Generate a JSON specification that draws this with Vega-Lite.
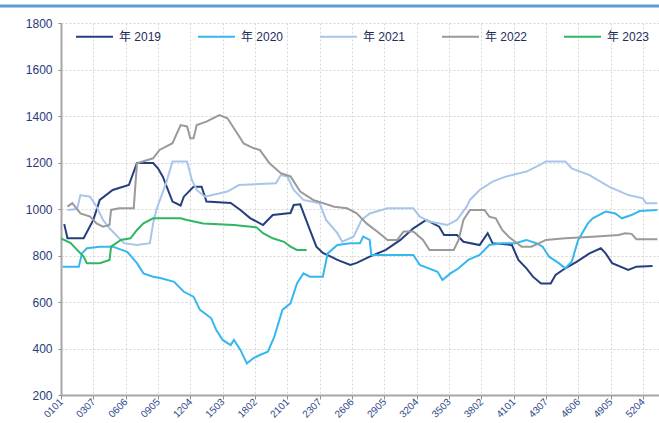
{
  "$schema": "https://vega.github.io/schema/vega-lite/v6.json",
  "width": 598,
  "height": 372,
  "autosize": {"type": "none"},
  "padding": {"left": 61, "top": 23, "right": 0, "bottom": 28},
  "background": "white",
  "config": {
    "view": {"stroke": null},
    "font": "Liberation Sans, Noto Sans CJK SC, sans-serif",
    "axis": {"labelOverlap": false}
  },
  "datasets": {
    "series": [
      {"d": 3, "s": "年 2019", "v": 935}, {"d": 5, "s": "年 2019", "v": 874}, {"d": 15, "s": "年 2019", "v": 874},
      {"d": 21, "s": "年 2019", "v": 953}, {"d": 25, "s": "年 2019", "v": 1039}, {"d": 33, "s": "年 2019", "v": 1082},
      {"d": 43, "s": "年 2019", "v": 1103}, {"d": 48, "s": "年 2019", "v": 1198}, {"d": 58, "s": "年 2019", "v": 1198},
      {"d": 61, "s": "年 2019", "v": 1175}, {"d": 64, "s": "年 2019", "v": 1139}, {"d": 70, "s": "年 2019", "v": 1032},
      {"d": 75, "s": "年 2019", "v": 1015}, {"d": 77, "s": "年 2019", "v": 1053}, {"d": 83, "s": "年 2019", "v": 1096},
      {"d": 88, "s": "年 2019", "v": 1096}, {"d": 91, "s": "年 2019", "v": 1032}, {"d": 106, "s": "年 2019", "v": 1026},
      {"d": 112, "s": "年 2019", "v": 996}, {"d": 118, "s": "年 2019", "v": 961}, {"d": 126, "s": "年 2019", "v": 931},
      {"d": 132, "s": "年 2019", "v": 974}, {"d": 143, "s": "年 2019", "v": 983}, {"d": 145, "s": "年 2019", "v": 1017},
      {"d": 149, "s": "年 2019", "v": 1020}, {"d": 155, "s": "年 2019", "v": 910}, {"d": 159, "s": "年 2019", "v": 838},
      {"d": 163, "s": "年 2019", "v": 811}, {"d": 168, "s": "年 2019", "v": 795}, {"d": 172, "s": "年 2019", "v": 781},
      {"d": 180, "s": "年 2019", "v": 759}, {"d": 184, "s": "年 2019", "v": 768}, {"d": 192, "s": "年 2019", "v": 795},
      {"d": 202, "s": "年 2019", "v": 824}, {"d": 211, "s": "年 2019", "v": 867}, {"d": 219, "s": "年 2019", "v": 917},
      {"d": 227, "s": "年 2019", "v": 953}, {"d": 235, "s": "年 2019", "v": 924}, {"d": 238, "s": "年 2019", "v": 888},
      {"d": 246, "s": "年 2019", "v": 888}, {"d": 250, "s": "年 2019", "v": 859}, {"d": 260, "s": "年 2019", "v": 845},
      {"d": 265, "s": "年 2019", "v": 896}, {"d": 268, "s": "年 2019", "v": 853}, {"d": 280, "s": "年 2019", "v": 845},
      {"d": 284, "s": "年 2019", "v": 781}, {"d": 289, "s": "年 2019", "v": 745}, {"d": 293, "s": "年 2019", "v": 709},
      {"d": 298, "s": "年 2019", "v": 680}, {"d": 304, "s": "年 2019", "v": 680}, {"d": 307, "s": "年 2019", "v": 716},
      {"d": 313, "s": "年 2019", "v": 745}, {"d": 320, "s": "年 2019", "v": 773}, {"d": 328, "s": "年 2019", "v": 809},
      {"d": 335, "s": "年 2019", "v": 831}, {"d": 338, "s": "年 2019", "v": 809}, {"d": 342, "s": "年 2019", "v": 767},
      {"d": 352, "s": "年 2019", "v": 738}, {"d": 357, "s": "年 2019", "v": 752}, {"d": 367, "s": "年 2019", "v": 755},

      {"d": 2, "s": "年 2020", "v": 752}, {"d": 12, "s": "年 2020", "v": 752}, {"d": 14, "s": "年 2020", "v": 809},
      {"d": 17, "s": "年 2020", "v": 831}, {"d": 25, "s": "年 2020", "v": 838}, {"d": 33, "s": "年 2020", "v": 838},
      {"d": 42, "s": "年 2020", "v": 816}, {"d": 48, "s": "年 2020", "v": 767}, {"d": 52, "s": "年 2020", "v": 723},
      {"d": 58, "s": "年 2020", "v": 709}, {"d": 63, "s": "年 2020", "v": 702}, {"d": 71, "s": "年 2020", "v": 687},
      {"d": 77, "s": "年 2020", "v": 644}, {"d": 83, "s": "年 2020", "v": 623}, {"d": 87, "s": "年 2020", "v": 566},
      {"d": 94, "s": "年 2020", "v": 530}, {"d": 97, "s": "年 2020", "v": 480}, {"d": 101, "s": "年 2020", "v": 437},
      {"d": 106, "s": "年 2020", "v": 415}, {"d": 108, "s": "年 2020", "v": 437}, {"d": 112, "s": "年 2020", "v": 394},
      {"d": 116, "s": "年 2020", "v": 336}, {"d": 120, "s": "年 2020", "v": 358}, {"d": 124, "s": "年 2020", "v": 372},
      {"d": 129, "s": "年 2020", "v": 386}, {"d": 133, "s": "年 2020", "v": 451}, {"d": 138, "s": "年 2020", "v": 566},
      {"d": 143, "s": "年 2020", "v": 594}, {"d": 147, "s": "年 2020", "v": 680}, {"d": 151, "s": "年 2020", "v": 723},
      {"d": 155, "s": "年 2020", "v": 709}, {"d": 163, "s": "年 2020", "v": 709}, {"d": 166, "s": "年 2020", "v": 809},
      {"d": 172, "s": "年 2020", "v": 845}, {"d": 180, "s": "年 2020", "v": 853}, {"d": 186, "s": "年 2020", "v": 853},
      {"d": 188, "s": "年 2020", "v": 881}, {"d": 192, "s": "年 2020", "v": 867}, {"d": 193, "s": "年 2020", "v": 802},
      {"d": 219, "s": "年 2020", "v": 802}, {"d": 223, "s": "年 2020", "v": 759}, {"d": 234, "s": "年 2020", "v": 730},
      {"d": 237, "s": "年 2020", "v": 695}, {"d": 242, "s": "年 2020", "v": 723}, {"d": 247, "s": "年 2020", "v": 745},
      {"d": 253, "s": "年 2020", "v": 781}, {"d": 260, "s": "年 2020", "v": 802}, {"d": 266, "s": "年 2020", "v": 845},
      {"d": 274, "s": "年 2020", "v": 853}, {"d": 282, "s": "年 2020", "v": 853}, {"d": 289, "s": "年 2020", "v": 867},
      {"d": 295, "s": "年 2020", "v": 853}, {"d": 299, "s": "年 2020", "v": 838}, {"d": 303, "s": "年 2020", "v": 795},
      {"d": 309, "s": "年 2020", "v": 767}, {"d": 313, "s": "年 2020", "v": 745}, {"d": 317, "s": "年 2020", "v": 773},
      {"d": 321, "s": "年 2020", "v": 867}, {"d": 327, "s": "年 2020", "v": 938}, {"d": 330, "s": "年 2020", "v": 960},
      {"d": 338, "s": "年 2020", "v": 989}, {"d": 344, "s": "年 2020", "v": 981}, {"d": 348, "s": "年 2020", "v": 960},
      {"d": 354, "s": "年 2020", "v": 974}, {"d": 359, "s": "年 2020", "v": 991}, {"d": 370, "s": "年 2020", "v": 996},

      {"d": 5, "s": "年 2021", "v": 996}, {"d": 11, "s": "年 2021", "v": 1000}, {"d": 13, "s": "年 2021", "v": 1060},
      {"d": 19, "s": "年 2021", "v": 1053}, {"d": 23, "s": "年 2021", "v": 1010}, {"d": 27, "s": "年 2021", "v": 953},
      {"d": 31, "s": "年 2021", "v": 917}, {"d": 40, "s": "年 2021", "v": 853}, {"d": 48, "s": "年 2021", "v": 845},
      {"d": 56, "s": "年 2021", "v": 853}, {"d": 58, "s": "年 2021", "v": 938}, {"d": 60, "s": "年 2021", "v": 996},
      {"d": 66, "s": "年 2021", "v": 1111}, {"d": 70, "s": "年 2021", "v": 1204}, {"d": 79, "s": "年 2021", "v": 1204},
      {"d": 82, "s": "年 2021", "v": 1125}, {"d": 85, "s": "年 2021", "v": 1082}, {"d": 90, "s": "年 2021", "v": 1053},
      {"d": 104, "s": "年 2021", "v": 1075}, {"d": 111, "s": "年 2021", "v": 1103}, {"d": 134, "s": "年 2021", "v": 1111},
      {"d": 137, "s": "年 2021", "v": 1146}, {"d": 141, "s": "年 2021", "v": 1140}, {"d": 145, "s": "年 2021", "v": 1082},
      {"d": 151, "s": "年 2021", "v": 1039}, {"d": 161, "s": "年 2021", "v": 1025}, {"d": 165, "s": "年 2021", "v": 953},
      {"d": 172, "s": "年 2021", "v": 896}, {"d": 175, "s": "年 2021", "v": 859}, {"d": 182, "s": "年 2021", "v": 881},
      {"d": 187, "s": "年 2021", "v": 953}, {"d": 192, "s": "年 2021", "v": 981}, {"d": 203, "s": "年 2021", "v": 1003},
      {"d": 219, "s": "年 2021", "v": 1003}, {"d": 223, "s": "年 2021", "v": 967}, {"d": 229, "s": "年 2021", "v": 946},
      {"d": 240, "s": "年 2021", "v": 931}, {"d": 246, "s": "年 2021", "v": 953}, {"d": 252, "s": "年 2021", "v": 1010},
      {"d": 254, "s": "年 2021", "v": 1039}, {"d": 260, "s": "年 2021", "v": 1082}, {"d": 268, "s": "年 2021", "v": 1118},
      {"d": 276, "s": "年 2021", "v": 1139}, {"d": 289, "s": "年 2021", "v": 1161}, {"d": 297, "s": "年 2021", "v": 1189},
      {"d": 301, "s": "年 2021", "v": 1204}, {"d": 313, "s": "年 2021", "v": 1204}, {"d": 317, "s": "年 2021", "v": 1175},
      {"d": 328, "s": "年 2021", "v": 1146}, {"d": 340, "s": "年 2021", "v": 1096}, {"d": 352, "s": "年 2021", "v": 1060},
      {"d": 361, "s": "年 2021", "v": 1046}, {"d": 363, "s": "年 2021", "v": 1025}, {"d": 370, "s": "年 2021", "v": 1025},

      {"d": 5, "s": "年 2022", "v": 1010}, {"d": 8, "s": "年 2022", "v": 1025}, {"d": 13, "s": "年 2022", "v": 981},
      {"d": 19, "s": "年 2022", "v": 967}, {"d": 23, "s": "年 2022", "v": 938}, {"d": 27, "s": "年 2022", "v": 924},
      {"d": 31, "s": "年 2022", "v": 931}, {"d": 32, "s": "年 2022", "v": 996}, {"d": 37, "s": "年 2022", "v": 1003},
      {"d": 46, "s": "年 2022", "v": 1003}, {"d": 48, "s": "年 2022", "v": 1197}, {"d": 58, "s": "年 2022", "v": 1218},
      {"d": 62, "s": "年 2022", "v": 1254}, {"d": 70, "s": "年 2022", "v": 1283}, {"d": 75, "s": "年 2022", "v": 1361},
      {"d": 79, "s": "年 2022", "v": 1355}, {"d": 81, "s": "年 2022", "v": 1304}, {"d": 83, "s": "年 2022", "v": 1304},
      {"d": 85, "s": "年 2022", "v": 1361}, {"d": 91, "s": "年 2022", "v": 1376}, {"d": 99, "s": "年 2022", "v": 1404},
      {"d": 104, "s": "年 2022", "v": 1390}, {"d": 110, "s": "年 2022", "v": 1326}, {"d": 114, "s": "年 2022", "v": 1282},
      {"d": 120, "s": "年 2022", "v": 1262}, {"d": 124, "s": "年 2022", "v": 1254}, {"d": 130, "s": "年 2022", "v": 1197},
      {"d": 137, "s": "年 2022", "v": 1154}, {"d": 143, "s": "年 2022", "v": 1140}, {"d": 149, "s": "年 2022", "v": 1075},
      {"d": 157, "s": "年 2022", "v": 1039}, {"d": 170, "s": "年 2022", "v": 1010}, {"d": 178, "s": "年 2022", "v": 1003},
      {"d": 184, "s": "年 2022", "v": 981}, {"d": 190, "s": "年 2022", "v": 938}, {"d": 198, "s": "年 2022", "v": 896},
      {"d": 203, "s": "年 2022", "v": 867}, {"d": 209, "s": "年 2022", "v": 867}, {"d": 213, "s": "年 2022", "v": 903},
      {"d": 219, "s": "年 2022", "v": 903}, {"d": 225, "s": "年 2022", "v": 867}, {"d": 229, "s": "年 2022", "v": 824},
      {"d": 244, "s": "年 2022", "v": 824}, {"d": 247, "s": "年 2022", "v": 867}, {"d": 250, "s": "年 2022", "v": 953},
      {"d": 254, "s": "年 2022", "v": 996}, {"d": 263, "s": "年 2022", "v": 996}, {"d": 266, "s": "年 2022", "v": 967},
      {"d": 270, "s": "年 2022", "v": 960}, {"d": 274, "s": "年 2022", "v": 910}, {"d": 278, "s": "年 2022", "v": 881},
      {"d": 282, "s": "年 2022", "v": 859}, {"d": 286, "s": "年 2022", "v": 838}, {"d": 292, "s": "年 2022", "v": 838},
      {"d": 297, "s": "年 2022", "v": 853}, {"d": 301, "s": "年 2022", "v": 867}, {"d": 313, "s": "年 2022", "v": 874},
      {"d": 330, "s": "年 2022", "v": 881}, {"d": 346, "s": "年 2022", "v": 888}, {"d": 350, "s": "年 2022", "v": 896},
      {"d": 354, "s": "年 2022", "v": 893}, {"d": 357, "s": "年 2022", "v": 870}, {"d": 370, "s": "年 2022", "v": 870},

      {"d": 1, "s": "年 2023", "v": 874}, {"d": 7, "s": "年 2023", "v": 853}, {"d": 11, "s": "年 2023", "v": 824},
      {"d": 15, "s": "年 2023", "v": 795}, {"d": 17, "s": "年 2023", "v": 767}, {"d": 25, "s": "年 2023", "v": 767},
      {"d": 31, "s": "年 2023", "v": 781}, {"d": 32, "s": "年 2023", "v": 838}, {"d": 38, "s": "年 2023", "v": 867},
      {"d": 44, "s": "年 2023", "v": 874}, {"d": 48, "s": "年 2023", "v": 910}, {"d": 52, "s": "年 2023", "v": 938},
      {"d": 58, "s": "年 2023", "v": 960}, {"d": 75, "s": "年 2023", "v": 960}, {"d": 79, "s": "年 2023", "v": 953},
      {"d": 89, "s": "年 2023", "v": 938}, {"d": 108, "s": "年 2023", "v": 931}, {"d": 122, "s": "年 2023", "v": 921},
      {"d": 126, "s": "年 2023", "v": 896}, {"d": 132, "s": "年 2023", "v": 874}, {"d": 139, "s": "年 2023", "v": 859},
      {"d": 143, "s": "年 2023", "v": 838}, {"d": 147, "s": "年 2023", "v": 824}, {"d": 153, "s": "年 2023", "v": 824}
    ],
    "header": [{"d": -37, "d1": 371, "v": 1873}]
  },
  "encoding": {
    "x": {
      "field": "d",
      "type": "quantitative",
      "scale": {"domain": [1, 371], "nice": false, "zero": false},
      "axis": {
        "title": null,
        "values": [1, 21, 41, 61, 81, 101, 121, 141, 161, 181, 201, 221, 241, 261, 281, 301, 321, 341, 361],
        "labelExpr": "pad(toString(floor((datum.value - 1) / 7) + 1), 2, '0', 'left') + '0' + toString((datum.value - 1) % 7 + 1)",
        "labelOverlap": false,
        "labelAngle": -45,
        "labelAlign": "right",
        "labelBaseline": "middle",
        "labelPadding": 1,
        "labelFontSize": 10,
        "labelColor": "#2e4a8a",
        "labelFont": "Liberation Sans",
        "domainColor": "#a6a6a6",
        "domainWidth": 2,
        "tickColor": "#8c8c8c",
        "tickSize": 4,
        "tickWidth": 1,
        "grid": true,
        "gridColor": "#d6d6d6",
        "gridDash": [2, 2],
        "gridWidth": 1
      }
    },
    "y": {
      "field": "v",
      "type": "quantitative",
      "scale": {"domain": [200, 1800], "nice": false, "zero": false},
      "axis": {
        "title": null,
        "values": [200, 400, 600, 800, 1000, 1200, 1400, 1600, 1800],
        "format": "d",
        "labelFontSize": 12,
        "labelColor": "#26397a",
        "labelFont": "Liberation Sans",
        "labelPadding": 6,
        "domainColor": "#a6a6a6",
        "domainWidth": 2,
        "tickColor": "#8c8c8c",
        "tickSize": 3,
        "grid": true,
        "gridColor": "#d6d6d6",
        "gridDash": [2, 2],
        "gridWidth": 1
      }
    }
  },
  "layer": [
    {
      "data": {"name": "header"},
      "mark": {"type": "rule", "color": "#5b9bd5", "strokeWidth": 3},
      "encoding": {"x2": {"field": "d1"}}
    },
    {
      "data": {"name": "series"},
      "mark": {"type": "line", "strokeWidth": 2, "clip": true},
      "encoding": {
        "color": {
          "field": "s",
          "type": "nominal",
          "scale": {
            "domain": ["年 2019", "年 2020", "年 2021", "年 2022", "年 2023"],
            "range": ["#243f7d", "#35b8ee", "#a9c5ec", "#9a9a9a", "#2fb662"]
          },
          "legend": {
            "title": null,
            "orient": "none",
            "legendX": 14,
            "legendY": -6,
            "direction": "horizontal",
            "padding": 0,
            "symbolType": "stroke",
            "symbolSize": 1369,
            "symbolStrokeWidth": 2,
            "labelFontSize": 12,
            "labelColor": "#1f2d5a",
            "labelFont": "Liberation Sans, Noto Sans CJK SC",
            "labelOffset": 5,
            "columnPadding": 32
          }
        }
      }
    }
  ]
}
